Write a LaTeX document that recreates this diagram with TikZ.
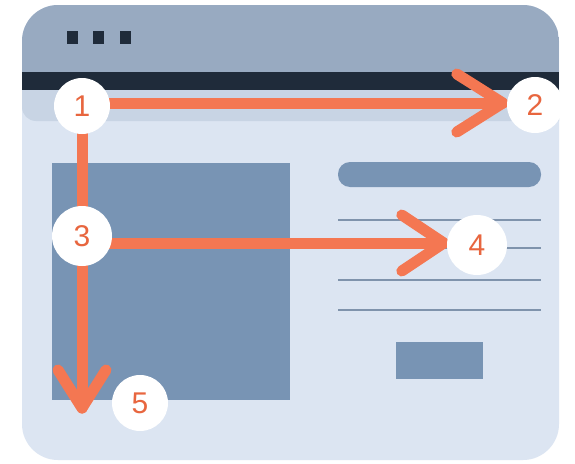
\documentclass[tikz,border=0pt]{standalone}
\usepackage{fontspec}
\setmainfont{Liberation Sans}
\usetikzlibrary{calc}
\pgfdeclarelayer{back}
\pgfdeclarelayer{flow}
\pgfsetlayers{back,flow,main}

\definecolor{page}{HTML}{FFFFFF}
\definecolor{winbody}{HTML}{DCE5F2}
\definecolor{winhead}{HTML}{98AAC1}
\definecolor{winbar}{HTML}{1F2B3A}
\definecolor{winband}{HTML}{C8D4E4}
\definecolor{block}{HTML}{7894B4}
\definecolor{rule}{HTML}{7F93AC}
\definecolor{flowline}{HTML}{F47752}
\definecolor{numtext}{HTML}{E8663F}

\tikzset{
  stepnum/.style={circle, fill=white, minimum size=56pt, inner sep=0pt,
    font=\fontsize{30}{30}\selectfont, text=numtext},
  flowpath/.style={draw=flowline, line width=11pt, line cap=round, line join=round},
  textrule/.style={draw=rule, line width=2.5pt},
  blockfill/.style={fill=block},
}

\begin{document}
\begin{tikzpicture}[x=1pt, y=-1pt]
\useasboundingbox (0,0) rectangle (575,463);

% browser window
\begin{pgfonlayer}{back}
  \fill[page] (0,0) rectangle (575,463);
  \fill[winbody, rounded corners=36pt] (22,5) rectangle (559,460);
  \begin{scope}
    \clip[rounded corners=36pt] (22,5) rectangle (559,460);
    \fill[winhead] (22,5) rectangle (559,72);
    \fill[winbar] (22,72) rectangle (559,90);
    \fill[winband] (22,90) -- (559,90) -- (559,121)
      [rounded corners=14pt] -- (22,121) [sharp corners] -- cycle;
  \end{scope}
  % window buttons
  \foreach \x in {67,93,120}
    \fill[winbar] (\x,31) rectangle (\x+11,44);
  % page content
  \fill[blockfill] (52,163) rectangle (290,400);
  \fill[blockfill, rounded corners=12pt] (338,162) rectangle (541,187);
  \foreach \y in {220,248,280,310}
    \draw[textrule] (338,\y) -- (541,\y);
  \fill[blockfill] (396,342) rectangle (483,379);
\end{pgfonlayer}

% numbered reading steps
\node[stepnum] (n1) at (82,106) {1};
\node[stepnum] (n2) at (535,105) {2};
\node[stepnum, minimum size=60pt] (n3) at (82,236) {3};
\node[stepnum, minimum size=60pt] (n4) at (477,245) {4};
\node[stepnum] (n5) at (140,403) {5};

\coordinate (t2) at ($(n2.west)+(-4,-2)$);
\coordinate (t4) at ($(n4.west)+(-3,-2)$);
\coordinate (t5) at (82,408);

% reading flow
\begin{pgfonlayer}{flow}
  \draw[flowpath] (n1 |- t2) -- (t2);
  \draw[flowpath] ($(t2)+(-46,-29)$) -- (t2) -- ($(t2)+(-46,29)$);
  \draw[flowpath] (n3 |- t4) -- (t4);
  \draw[flowpath] ($(t4)+(-42,-28)$) -- (t4) -- ($(t4)+(-42,28)$);
  \draw[flowpath] (n1.center) -- (t5);
  \draw[flowpath] ($(t5)+(-24,-38)$) -- (t5) -- ($(t5)+(24,-38)$);
\end{pgfonlayer}
\end{tikzpicture}
\end{document}
